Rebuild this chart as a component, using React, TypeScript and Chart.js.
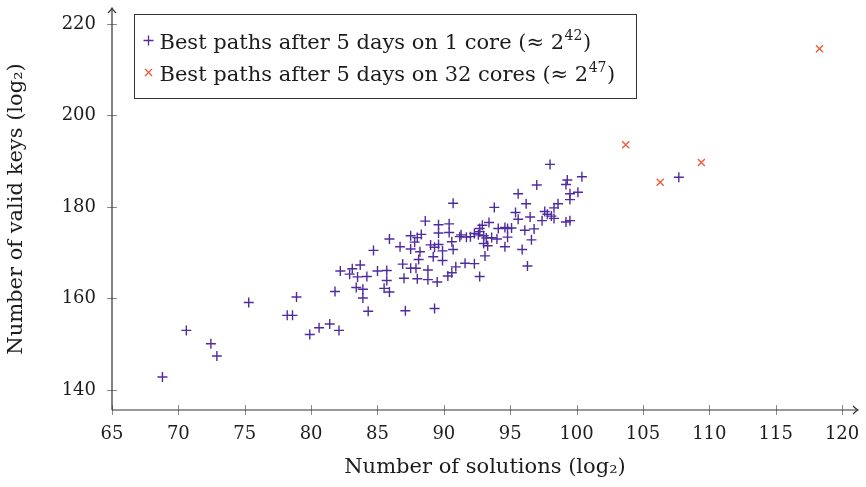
import React, { useEffect, useRef } from "react";
import { Chart, registerables } from "chart.js";

Chart.register(...registerables);

// 1 core series (log2 solutions, log2 valid keys)
const core1X = [
  68.8, 70.6, 72.45, 72.9, 75.3, 78.9, 78.2, 78.6, 79.9, 80.6, 81.4, 82.1, 81.8, 82.2, 82.9,
  83.1, 83.7, 83.5, 84.2, 84.7, 85.0, 85.7, 85.9, 83.4, 83.9, 83.9, 85.5, 85.7, 85.9, 84.3,
  87.1, 89.3, 86.7, 87.5, 88.0, 88.3, 87.8, 88.6, 89.6, 90.4, 89.6, 90.4, 90.7, 87.5, 88.2,
  89.0, 89.3, 89.6, 90.6, 90.7, 89.9, 89.2, 89.9, 88.1, 86.9, 87.5, 87.9, 88.8, 87.0, 88.0,
  88.8, 89.5, 90.3, 90.6, 90.9, 91.6, 92.3, 91.3, 91.7, 92.0, 92.3, 92.6, 93.0, 93.2, 92.7,
  92.9, 93.4, 94.1, 94.6, 94.8, 95.1, 96.1, 96.8, 94.0, 94.8, 96.6, 93.0, 93.3, 94.6, 95.9,
  93.1, 96.3, 92.7, 93.8, 95.4, 96.5, 95.6, 97.6, 97.8, 98.1, 97.4, 98.3, 99.2, 99.5, 96.2,
  95.6, 97.0, 98.0, 100.4, 99.3, 99.2, 100.1, 99.5, 99.5, 98.6, 98.3, 107.7, 93.6, 92.7, 91.2,
];
const core1Y = [
  142.8, 153.0, 150.1, 147.4, 159.1, 160.3, 156.3, 156.3, 152.1, 153.6, 154.4, 153.0, 161.5, 166.0, 165.3,
  166.5, 167.3, 164.7, 164.8, 170.5, 166.0, 166.1, 173.0, 162.4, 162.0, 160.1, 162.2, 163.9, 161.4, 157.2,
  157.3, 157.8, 171.3, 173.7, 173.3, 174.0, 172.3, 176.9, 176.1, 176.3, 174.3, 174.4, 180.8, 170.8, 170.2,
  171.7, 171.2, 171.8, 172.4, 170.7, 170.4, 169.1, 168.3, 168.5, 167.5, 166.6, 166.6, 166.2, 164.4, 164.3,
  164.1, 163.6, 164.9, 165.6, 166.9, 167.7, 167.6, 173.9, 173.4, 173.5, 174.2, 173.9, 173.7, 173.2, 175.3,
  176.0, 176.6, 175.3, 175.5, 175.3, 175.4, 174.9, 175.2, 173.0, 173.4, 172.8, 172.0, 171.5, 171.3, 170.7,
  169.3, 167.1, 164.8, 179.9, 178.8, 177.8, 177.3, 179.0, 178.4, 178.0, 177.0, 177.5, 176.7, 177.0, 180.7,
  182.9, 184.8, 189.3, 186.6, 185.9, 184.9, 183.2, 182.9, 181.6, 180.7, 179.8, 186.5, 173.3, 174.6, 173.5,
];

// 32 cores series
const core32X = [103.7, 106.3, 109.4, 118.3];
const core32Y = [193.6, 185.4, 189.7, 214.6];

const xTicks = [65, 70, 75, 80, 85, 90, 95, 100, 105, 110, 115, 120];
const yTicks = [140, 160, 180, 200, 220];

const xTitle = "Number of solutions (log₂)";
const yTitle = "Number of valid keys (log₂)";
const legendBase = ["Best paths after 5 days on 1 core (≈ 2", "Best paths after 5 days on 32 cores (≈ 2"];
const legendExp = ["42", "47"];

const PURPLE = "#4f2c9e";
const RED = "#ee5a3c";
const INK = "#1c1c1c";
const FONT = "'DejaVu Serif', 'Liberation Serif', serif";
const TEXT_SIZE = 21;
const TICK_SIZE = 18;

const axesPlugin = {
  id: "tikzAxes",
  afterDraw(chart: any) {
    const ctx = chart.ctx;
    const ca = chart.chartArea;
    const xs = chart.scales.x;
    const ys = chart.scales.y;
    ctx.save();
    // tick marks
    ctx.strokeStyle = "#8a8a8a";
    ctx.lineWidth = 1;
    ctx.beginPath();
    xTicks.forEach((v) => {
      const px = Math.round(xs.getPixelForValue(v)) + 0.5;
      ctx.moveTo(px, ca.bottom - 5);
      ctx.lineTo(px, ca.bottom + 5);
    });
    yTicks.forEach((v) => {
      const py = Math.round(ys.getPixelForValue(v)) + 0.5;
      ctx.moveTo(ca.left - 5, py);
      ctx.lineTo(ca.left + 5, py);
    });
    ctx.stroke();
    // axis lines
    ctx.strokeStyle = "#333";
    ctx.fillStyle = "#333";
    ctx.lineWidth = 1.2;
    ctx.beginPath();
    ctx.moveTo(ca.left, ca.bottom);
    ctx.lineTo(ca.right - 1, ca.bottom);
    ctx.moveTo(ca.left, ca.bottom);
    ctx.lineTo(ca.left, ca.top + 1);
    ctx.stroke();
    // arrow heads
    ctx.beginPath();
    ctx.moveTo(ca.right - 5, ca.bottom - 4);
    ctx.quadraticCurveTo(ca.right - 2, ca.bottom - 1, ca.right, ca.bottom);
    ctx.quadraticCurveTo(ca.right - 2, ca.bottom + 1, ca.right - 5, ca.bottom + 4);
    ctx.moveTo(ca.left - 4, ca.top + 5);
    ctx.quadraticCurveTo(ca.left - 1, ca.top + 2, ca.left, ca.top);
    ctx.quadraticCurveTo(ca.left + 1, ca.top + 2, ca.left + 4, ca.top + 5);
    ctx.stroke();

    // legend box
    const bx = Math.round(ca.left + 22) + 0.5;
    const by = Math.round(ca.top + 6) + 0.5;
    const bw = 502;
    const bh = 84;
    ctx.fillStyle = "#fff";
    ctx.fillRect(bx, by, bw, bh);
    ctx.strokeStyle = "#333";
    ctx.lineWidth = 1;
    ctx.strokeRect(bx, by, bw, bh);
    const lines = [
      { base: legendBase[0], exp: legendExp[0], color: PURPLE, mark: "plus" },
      { base: legendBase[1], exp: legendExp[1], color: RED, mark: "x" },
    ];
    lines.forEach((l, i) => {
      const baseY = by + 34 + i * 32;
      const mx = bx + 14;
      const my = baseY - 8;
      ctx.strokeStyle = l.color;
      ctx.lineWidth = 1.3;
      ctx.beginPath();
      if (l.mark === "plus") {
        ctx.moveTo(mx - 5, my);
        ctx.lineTo(mx + 5, my);
        ctx.moveTo(mx, my - 5);
        ctx.lineTo(mx, my + 5);
      } else {
        ctx.moveTo(mx - 3.5, my - 3.5);
        ctx.lineTo(mx + 3.5, my + 3.5);
        ctx.moveTo(mx - 3.5, my + 3.5);
        ctx.lineTo(mx + 3.5, my - 3.5);
      }
      ctx.stroke();
      ctx.fillStyle = INK;
      ctx.textBaseline = "alphabetic";
      ctx.textAlign = "left";
      ctx.font = `${TEXT_SIZE}px ${FONT}`;
      let tx = bx + 25;
      ctx.fillText(l.base, tx, baseY);
      tx += ctx.measureText(l.base).width;
      ctx.font = `14px ${FONT}`;
      ctx.fillText(l.exp, tx + 0.5, baseY - 9);
      tx += ctx.measureText(l.exp).width + 1;
      ctx.font = `${TEXT_SIZE}px ${FONT}`;
      ctx.fillText(")", tx, baseY);
    });
    ctx.restore();
  },
};

export default function App() {
  const ref = useRef<HTMLCanvasElement | null>(null);
  useEffect(() => {
    if (!ref.current) return;
    const chart = new Chart(ref.current, {
      type: "scatter",
      data: {
        datasets: [
          {
            label: legendBase[0] + legendExp[0] + ")",
            data: core1X.map((x, i) => ({ x, y: core1Y[i] })),
            pointStyle: "cross",
            pointRadius: 5,
            borderColor: PURPLE,
            backgroundColor: PURPLE,
            borderWidth: 1.4,
          },
          {
            label: legendBase[1] + legendExp[1] + ")",
            data: core32X.map((x, i) => ({ x, y: core32Y[i] })),
            pointStyle: "crossRot",
            pointRadius: 5,
            borderColor: RED,
            backgroundColor: RED,
            borderWidth: 1.4,
          },
        ],
      },
      options: {
        animation: false,
        responsive: false,
        maintainAspectRatio: false,
        layout: { padding: { left: 0, top: 8, right: 8, bottom: 0 } },
        plugins: { legend: { display: false }, tooltip: { enabled: false } },
        scales: {
          x: {
            type: "linear",
            min: 65,
            max: 121.2,
            afterBuildTicks: (s: any) => {
              s.ticks = xTicks.map((v) => ({ value: v }));
            },
            afterFit: (s: any) => {
              s.height = 77;
              s.paddingLeft = 0;
              s.paddingRight = 0;
            },
            grid: { display: false, drawTicks: false },
            border: { display: false },
            ticks: {
              padding: 14,
              color: INK,
              font: { family: FONT, size: TICK_SIZE },
              maxRotation: 0,
              autoSkip: false,
            },
            title: {
              display: true,
              text: xTitle,
              color: INK,
              font: { family: FONT, size: TEXT_SIZE },
              padding: { top: 0, bottom: 7 },
            },
          },
          y: {
            type: "linear",
            min: 135.6,
            max: 223.5,
            afterBuildTicks: (s: any) => {
              s.ticks = yTicks.map((v) => ({ value: v }));
            },
            afterFit: (s: any) => {
              s.width = 112;
              s.paddingTop = 0;
              s.paddingBottom = 0;
            },
            grid: { display: false, drawTicks: false },
            border: { display: false },
            ticks: {
              padding: 16,
              color: INK,
              font: { family: FONT, size: TICK_SIZE },
              autoSkip: false,
            },
            title: {
              display: true,
              text: yTitle,
              color: INK,
              font: { family: FONT, size: TEXT_SIZE },
              padding: { top: 4, bottom: 0 },
            },
          },
        },
      },
      plugins: [axesPlugin],
    });
    return () => chart.destroy();
  }, []);
  return (
    <div style={{ position: "fixed", left: 0, top: 0, width: 866, height: 487, background: "#fff" }}>
      <canvas ref={ref} width={866} height={487} style={{ width: 866, height: 487 }} />
    </div>
  );
}
